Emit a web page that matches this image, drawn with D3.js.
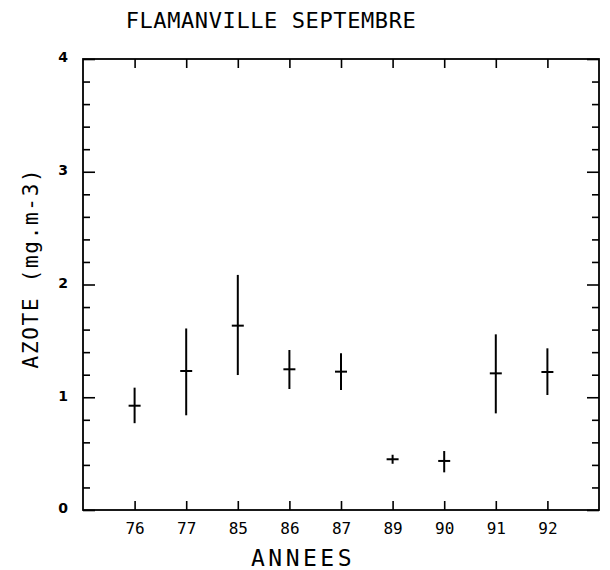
<!DOCTYPE html>
<html>
<head>
<meta charset="utf-8">
<script src="https://cdn.jsdelivr.net/npm/d3@7"></script>
<style>
  html, body { margin: 0; padding: 0; background: #fff; }
  svg { display: block; }
  text { fill: #000; }
</style>
</head>
<body>
<script>
// ---- data ----
const years = ["76", "77", "85", "86", "87", "89", "90", "91", "92"];
const means = [0.925, 1.233, 1.635, 1.248, 1.227, 0.45, 0.435, 1.212, 1.224];
const lows  = [0.77, 0.84, 1.197, 1.073, 1.064, 0.41, 0.334, 0.857, 1.02];
const highs = [1.085, 1.61, 2.085, 1.419, 1.39, 0.49, 0.523, 1.558, 1.434];
const yMajorTicks = [0, 1, 2, 3, 4];
const titleText = "FLAMANVILLE SEPTEMBRE";
const xTitle = "ANNEES";
const yTitle = "AZOTE  (mg.m-3)";

const W = 610, H = 570;
const margin = { left: 83, right: 11, top: 59, bottom: 60 };
const iw = W - margin.left - margin.right;
const ih = H - margin.top - margin.bottom;

const svg = d3.select("body").append("svg").attr("width", W).attr("height", H);
const g = svg.append("g").attr("transform", `translate(${margin.left},${margin.top})`);

const x = d3.scaleLinear().domain([0, years.length + 1]).range([0, iw]);
const y = d3.scaleLinear().domain([0, 4]).range([ih, 0]);

// frame
g.append("rect").attr("x", 0).attr("y", 0).attr("width", iw).attr("height", ih)
  .attr("fill", "none").attr("stroke", "#000").attr("stroke-width", 1.8);

// y ticks (left & right), minor every 0.2
const minor = d3.range(0, 21).map(k => +(k * 0.2).toFixed(1));
const axLeft = d3.axisLeft(y).tickValues(minor).tickSizeOuter(0)
  .tickFormat(d => yMajorTicks.includes(d) ? d3.format("d")(d) : "");
const gl = g.append("g").call(axLeft);
gl.select(".domain").remove();
gl.selectAll(".tick line").attr("stroke-width", 1.6)
  .attr("x2", d => yMajorTicks.includes(d) ? 12 : 7);
gl.selectAll(".tick text").attr("x", -15).attr("dy", "0.2em")
  .style("font-size", "14px").style("font-weight", "bold")
  .style("font-family", "'DejaVu Sans', sans-serif");

const axRight = d3.axisRight(y).tickValues(minor).tickFormat("").tickSizeOuter(0);
const gr = g.append("g").attr("transform", `translate(${iw},0)`).call(axRight);
gr.select(".domain").remove();
gr.selectAll(".tick line").attr("stroke-width", 1.6)
  .attr("x2", d => yMajorTicks.includes(d) ? -12 : -7);

// x ticks (bottom & top)
const xTickVals = years.map((d, i) => i + 1);
const axBottom = d3.axisBottom(x).tickValues(xTickVals)
  .tickFormat(d => years[d - 1]).tickSizeOuter(0);
const gb = g.append("g").attr("transform", `translate(0,${ih})`).call(axBottom);
gb.select(".domain").remove();
gb.selectAll(".tick line").attr("y2", -9).attr("stroke-width", 1.6);
gb.selectAll(".tick text").attr("y", 13)
  .style("font-size", "16px").style("font-family", "'DejaVu Sans Mono', monospace");

const axTop = d3.axisTop(x).tickValues(xTickVals).tickFormat("").tickSizeOuter(0);
const gt = g.append("g").call(axTop);
gt.select(".domain").remove();
gt.selectAll(".tick line").attr("y2", 9).attr("stroke-width", 1.6);

// error bars
const pts = g.append("g");
years.forEach((yr, i) => {
  const cx = x(i + 1);
  pts.append("line").attr("x1", cx).attr("x2", cx)
    .attr("y1", y(lows[i])).attr("y2", y(highs[i]))
    .attr("stroke", "#000").attr("stroke-width", 2);
  pts.append("line").attr("x1", cx - 6).attr("x2", cx + 6)
    .attr("y1", y(means[i])).attr("y2", y(means[i]))
    .attr("stroke", "#000").attr("stroke-width", 2);
});

// titles
const mono = (size, sp) => sel => sel.style("font-family", "'DejaVu Sans Mono', monospace")
  .style("font-size", size + "px").style("letter-spacing", sp + "px");
svg.append("text").attr("x", 271).attr("y", 28).attr("text-anchor", "middle")
  .call(mono(22, 0.6)).text(titleText);
svg.append("text").attr("x", 303).attr("y", H - 4).attr("text-anchor", "middle")
  .call(mono(23, 3.5)).text(xTitle);
svg.append("text").attr("transform", `translate(38,268) rotate(-90)`)
  .attr("text-anchor", "middle").call(mono(21, 1.7)).text(yTitle);
</script>
</body>
</html>
